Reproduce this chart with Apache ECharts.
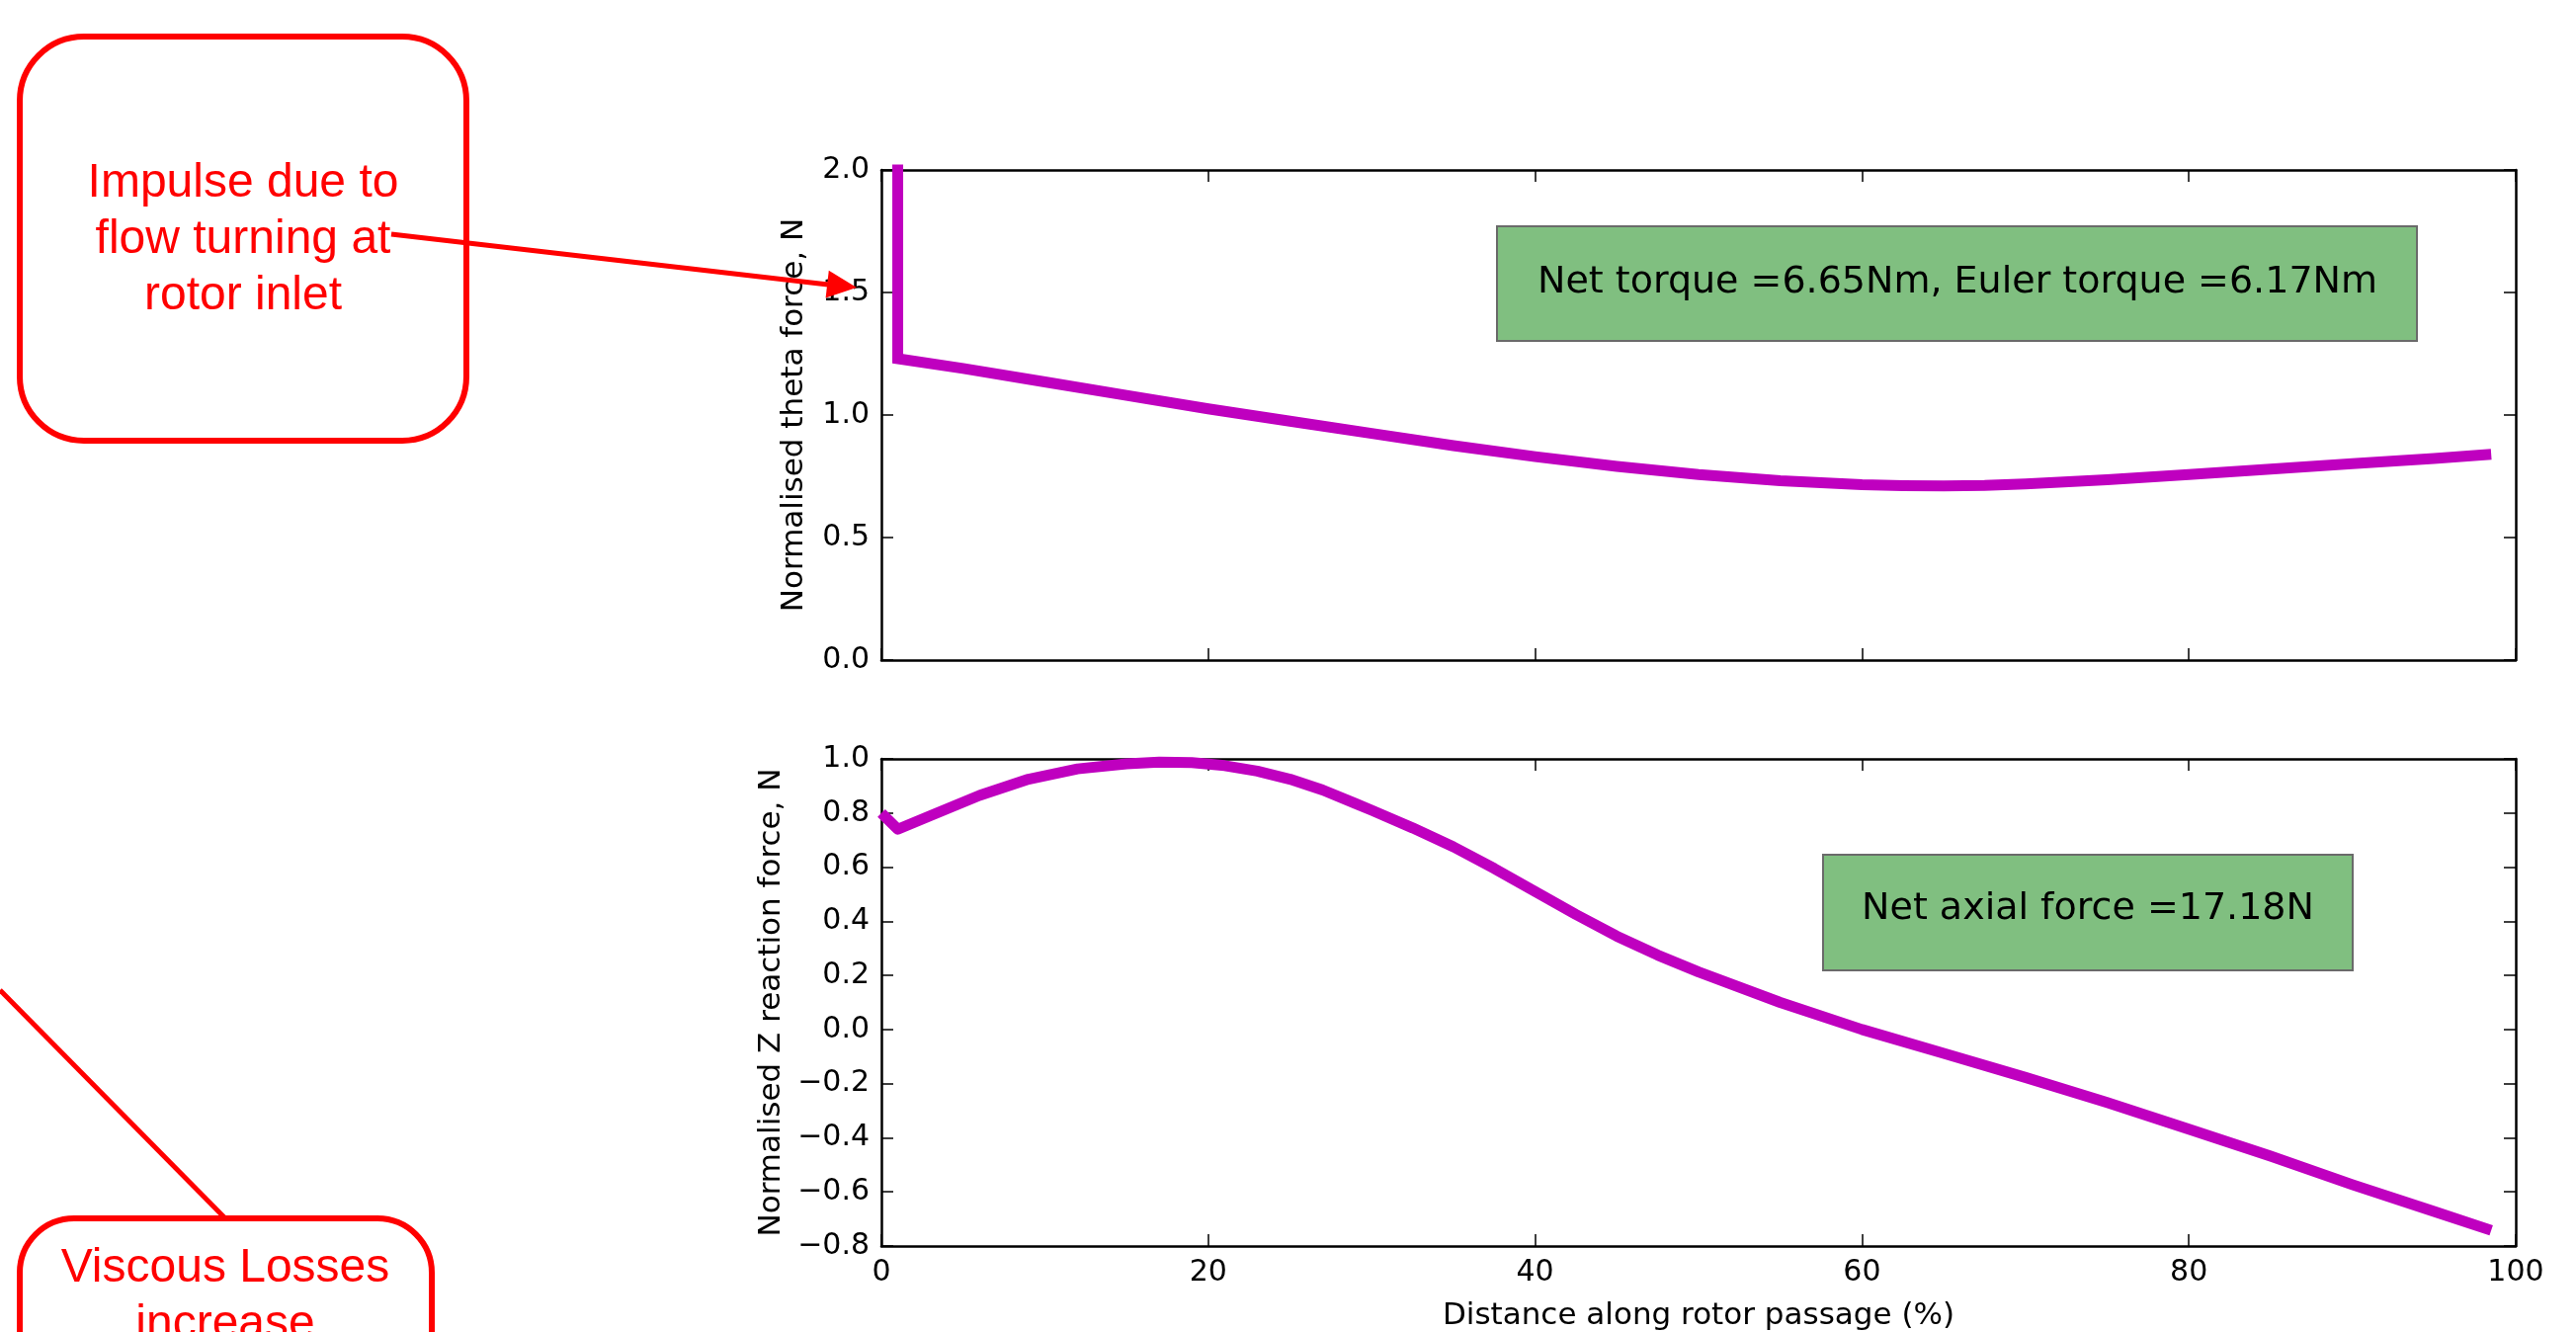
<!DOCTYPE html>
<html>
<head>
<meta charset="utf-8">
<title>Rotor passage forces</title>
<script src="https://cdn.jsdelivr.net/npm/echarts@6/dist/echarts.min.js"></script>
<style>
html,body{margin:0;padding:0;background:#fff;}
#chart{width:2607px;height:1348px;}
</style>
</head>
<body>
<div id="chart"></div>
<script>
// top plot: normalised theta force along the passage
var distTheta  = [1, 1, 5, 10, 15, 20, 25, 30, 35, 40, 45, 50, 55, 60, 62.5, 65, 67.5, 70, 75, 80, 85, 90, 95, 98.5];
var thetaForce = [3.0, 1.23, 1.19, 1.135, 1.08, 1.025, 0.975, 0.925, 0.875, 0.83, 0.79, 0.757, 0.732, 0.716, 0.712, 0.711, 0.713, 0.719, 0.736, 0.757, 0.779, 0.801, 0.823, 0.84];

// bottom plot: normalised Z reaction force
var distZ  = [0, 1, 3, 6, 9, 12, 15, 17, 19, 21, 23, 25, 27, 29, 30, 32.5, 35, 37.5, 40, 42.5, 45, 47.5, 50, 55, 60, 65, 70, 75, 80, 85, 90, 95, 98.5];
var zForce = [0.80, 0.74, 0.79, 0.865, 0.925, 0.963, 0.982, 0.988, 0.986, 0.975, 0.955, 0.925, 0.885, 0.835, 0.81, 0.745, 0.675, 0.595, 0.51, 0.425, 0.345, 0.275, 0.213, 0.10, 0.0, -0.088, -0.177, -0.27, -0.368, -0.468, -0.573, -0.672, -0.742];

var xRange = [0, 100, 20];
var thetaRange = [0, 2, 0.5];
var zRange = [-0.8, 1.0, 0.2];

var thetaNote = 'Net torque =6.65Nm, Euler torque =6.17Nm';
var axialNote = 'Net axial force =17.18N';
var impulseNote = ['Impulse due to', 'flow turning at', 'rotor inlet'];
var viscousNote = ['Viscous Losses', 'increase'];

function zip(a, b){
  var out = [];
  for (var i = 0; i < a.length; i++){ out.push([a[i], b[i]]); }
  return out;
}

function fmt1(v){
  if (Math.abs(v) < 1e-9) v = 0;
  return v.toFixed(1).replace('-', '\u2212');
}

var FONT = 'DejaVu Sans';
var RED = '#ff0000';
var MAGENTA = '#bf00bf';
var redFont = '48px "Liberation Sans"';

function axis(gridIndex, position, range, labels, extra){
  var a = {
    type: 'value',
    gridIndex: gridIndex,
    position: position,
    min: range[0], max: range[1], interval: range[2],
    splitLine: {show: false},
    axisLine: {show: true, onZero: false, lineStyle: {color: '#000', width: 2.5}},
    axisTick: {show: true, inside: true, length: 12, lineStyle: {color: '#000', width: 1.5}},
    axisLabel: {show: labels, color: '#000', fontFamily: FONT, fontSize: 30, margin: 12}
  };
  for (var k in extra){ a[k] = extra[k]; }
  return a;
}

var nameStyle = {color: '#000', fontFamily: FONT, fontSize: 31};

var chart = echarts.init(document.getElementById('chart'));
chart.setOption({
  backgroundColor: '#fff',
  animation: false,
  grid: [
    {left: 892, right: 61, top: 172, height: 496},
    {left: 892, right: 61, top: 768, height: 494}
  ],
  xAxis: [
    axis(0, 'bottom', xRange, false, {}),
    axis(0, 'top', xRange, false, {}),
    axis(1, 'bottom', xRange, true, {
      name: 'Distance along rotor passage (%)', nameLocation: 'middle', nameGap: 55,
      nameTextStyle: nameStyle,
      axisLabel: {show: true, color: '#000', fontFamily: FONT, fontSize: 30, margin: 12}
    }),
    axis(1, 'top', xRange, false, {})
  ],
  yAxis: [
    axis(0, 'left', thetaRange, true, {
      name: 'Normalised theta force, N', nameLocation: 'middle', nameGap: 73,
      nameTextStyle: nameStyle,
      axisLabel: {show: true, color: '#000', fontFamily: FONT, fontSize: 30, margin: 12, formatter: fmt1}
    }),
    axis(0, 'right', thetaRange, false, {}),
    axis(1, 'left', zRange, true, {
      name: 'Normalised Z reaction force, N', nameLocation: 'middle', nameGap: 96,
      nameTextStyle: nameStyle,
      axisLabel: {show: true, color: '#000', fontFamily: FONT, fontSize: 30, margin: 12, formatter: fmt1}
    }),
    axis(1, 'right', zRange, false, {})
  ],
  series: [
    {
      type: 'line', xAxisIndex: 0, yAxisIndex: 0,
      data: zip(distTheta, thetaForce),
      showSymbol: false, clip: true,
      lineStyle: {color: MAGENTA, width: 11, join: 'miter'}
    },
    {
      type: 'line', xAxisIndex: 2, yAxisIndex: 2,
      data: zip(distZ, zForce),
      showSymbol: false, clip: true,
      lineStyle: {color: MAGENTA, width: 11, join: 'round'}
    }
  ],
  graphic: [
    // result boxes
    {type: 'rect', z: 50, shape: {x: 1515, y: 229, width: 931, height: 116},
     style: {fill: '#80bf80', stroke: '#6a6a6a', lineWidth: 2}},
    {type: 'text', z: 51, style: {text: thetaNote, x: 1981, y: 286, textAlign: 'center', textVerticalAlign: 'middle',
     fill: '#000', font: '38px "DejaVu Sans"'}},
    {type: 'rect', z: 50, shape: {x: 1845, y: 865, width: 536, height: 117},
     style: {fill: '#80bf80', stroke: '#6a6a6a', lineWidth: 2}},
    {type: 'text', z: 51, style: {text: axialNote, x: 2113, y: 920, textAlign: 'center', textVerticalAlign: 'middle',
     fill: '#000', font: '38px "DejaVu Sans"'}},

    // red callouts
    {type: 'rect', z: 60, shape: {x: 20, y: 37, width: 452, height: 409, r: 65},
     style: {fill: 'none', stroke: RED, lineWidth: 6}},
    {type: 'text', z: 61, style: {text: impulseNote[0], x: 246, y: 186, textAlign: 'center', textVerticalAlign: 'middle', fill: RED, font: redFont}},
    {type: 'text', z: 61, style: {text: impulseNote[1], x: 246, y: 243, textAlign: 'center', textVerticalAlign: 'middle', fill: RED, font: redFont}},
    {type: 'text', z: 61, style: {text: impulseNote[2], x: 246, y: 300, textAlign: 'center', textVerticalAlign: 'middle', fill: RED, font: redFont}},
    {type: 'line', z: 62, shape: {x1: 396, y1: 237, x2: 838, y2: 288}, style: {stroke: RED, lineWidth: 5}},
    {type: 'polygon', z: 62, shape: {points: [[867, 291], [835.6, 301.5], [838.8, 273.7]]}, style: {fill: RED}},

    {type: 'line', z: 62, shape: {x1: 0, y1: 1002, x2: 228, y2: 1233}, style: {stroke: RED, lineWidth: 5}},
    {type: 'rect', z: 60, shape: {x: 20, y: 1233, width: 417, height: 300, r: 55},
     style: {fill: '#fff', stroke: RED, lineWidth: 6}},
    {type: 'text', z: 61, style: {text: viscousNote[0], x: 228, y: 1284, textAlign: 'center', textVerticalAlign: 'middle', fill: RED, font: redFont}},
    {type: 'text', z: 61, style: {text: viscousNote[1], x: 228, y: 1341, textAlign: 'center', textVerticalAlign: 'middle', fill: RED, font: redFont}}
  ]
});
</script>
</body>
</html>
